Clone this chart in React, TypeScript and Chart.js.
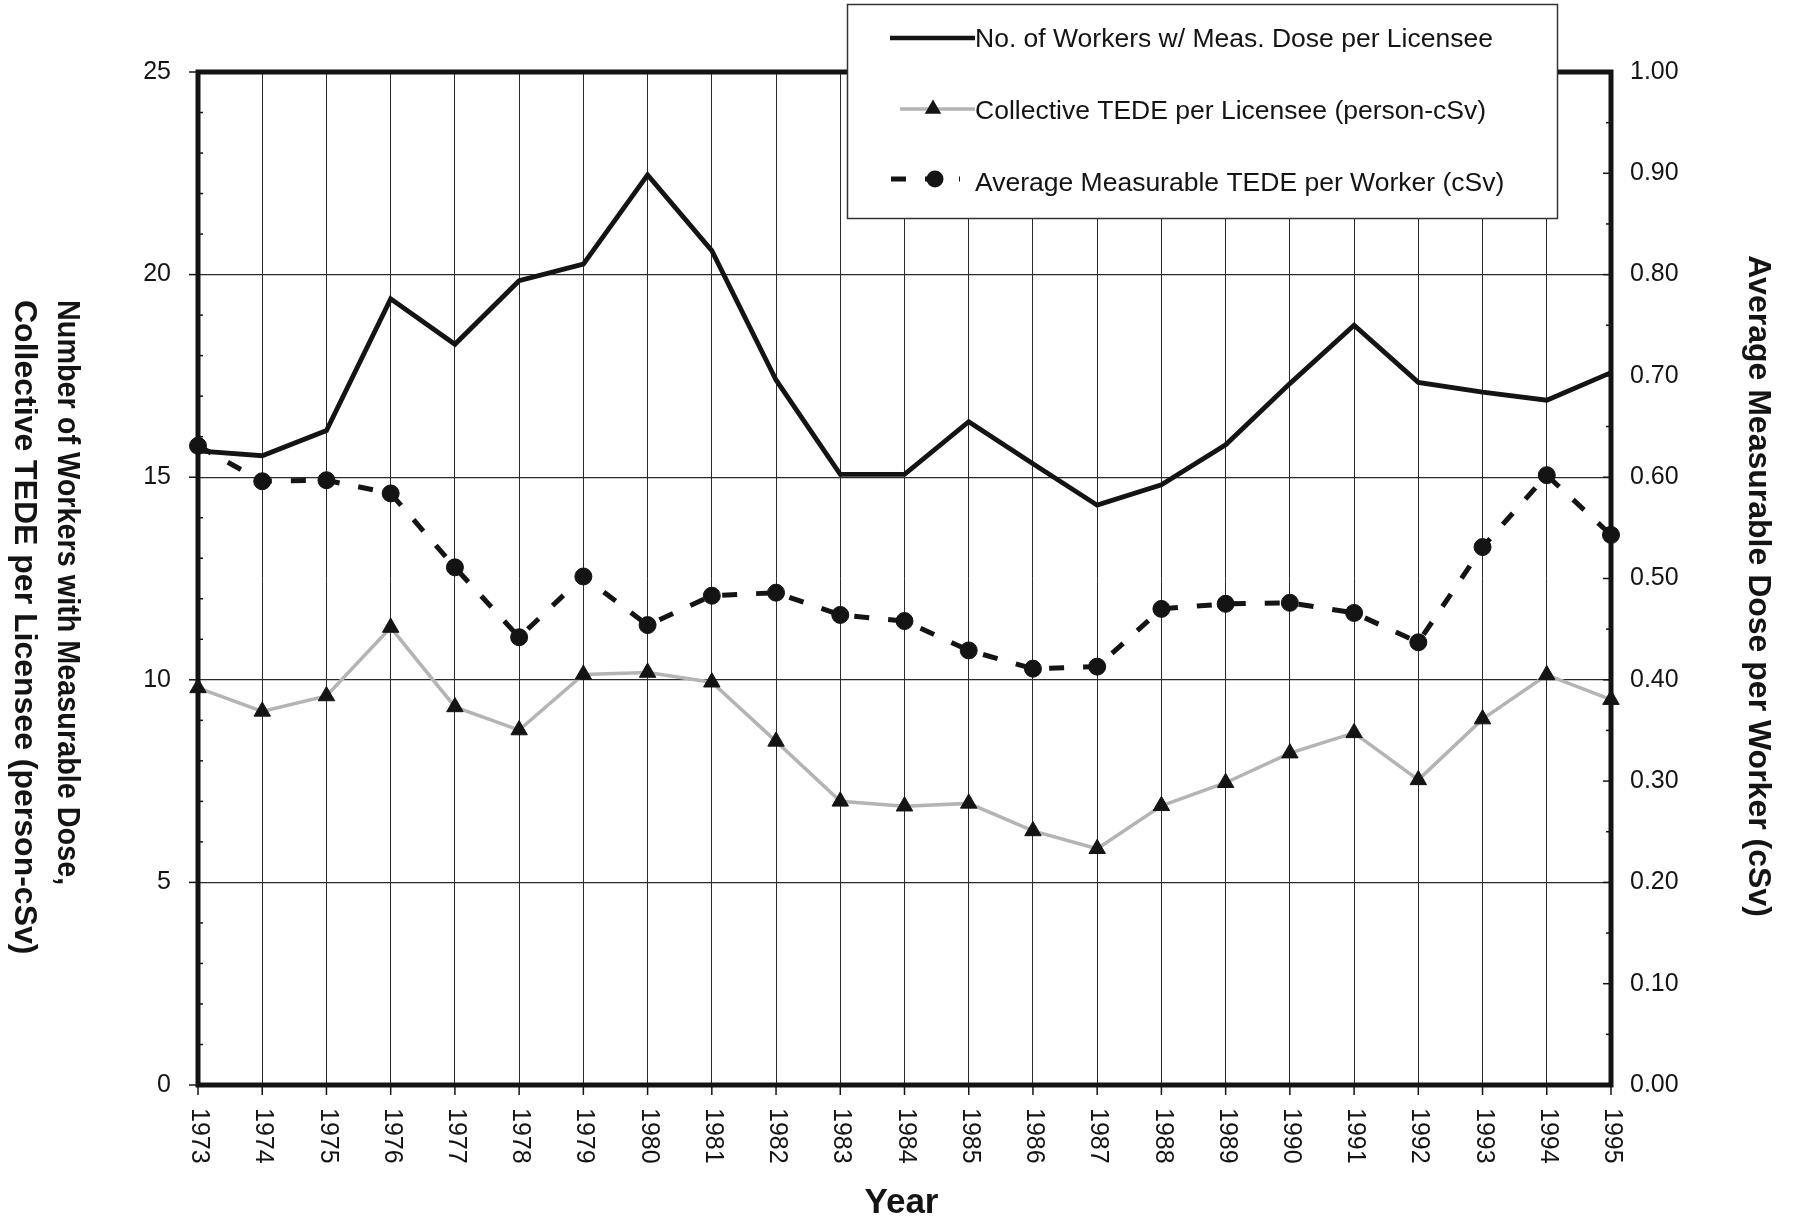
import React, { useEffect, useRef } from 'react';
import { Chart, registerables } from 'chart.js';

Chart.register(...registerables);

const years = ['1973', '1974', '1975', '1976', '1977', '1978', '1979', '1980', '1981', '1982', '1983', '1984', '1985', '1986', '1987', '1988', '1989', '1990', '1991', '1992', '1993', '1994', '1995'];

const workersPerLicensee = [15.65, 15.53, 16.15, 19.4, 18.28, 19.85, 20.26, 22.46, 20.59, 17.4, 15.07, 15.07, 16.37, 15.33, 14.31, 14.81, 15.8, 17.31, 18.75, 17.34, 17.1, 16.9, 17.58];

const collectiveTede = [9.8, 9.22, 9.6, 11.29, 9.33, 8.76, 10.13, 10.18, 9.94, 8.48, 7.0, 6.88, 6.95, 6.27, 5.83, 6.89, 7.46, 8.19, 8.69, 7.53, 9.03, 10.12, 9.51];

const avgTedePerWorker = [0.631, 0.596, 0.597, 0.584, 0.511, 0.442, 0.502, 0.454, 0.483, 0.486, 0.464, 0.458, 0.429, 0.411, 0.413, 0.47, 0.475, 0.476, 0.466, 0.437, 0.531, 0.602, 0.543];

const seriesNames = [
  'No. of Workers w/ Meas. Dose per Licensee',
  'Collective TEDE per Licensee (person-cSv)',
  'Average Measurable TEDE per Worker (cSv)',
];

const leftTitleLines = ['Number of Workers with Measurable Dose,', 'Collective TEDE per Licensee (person-cSv)'];
const rightTitle = 'Average Measurable Dose per Worker (cSv)';
const xTitle = 'Year';

const FONT = '"Liberation Sans", Arial, Helvetica, sans-serif';
const INK = '#141414';
const GRAY = '#b4b4b4';
const DASH = [15, 19];

function drawTriangle(ctx: CanvasRenderingContext2D, x: number, y: number, r: number) {
  ctx.beginPath();
  for (let k = 0; k < 3; k++) {
    const a = (k * 2 * Math.PI) / 3;
    const px = x + Math.sin(a) * r;
    const py = y - Math.cos(a) * r;
    if (k === 0) ctx.moveTo(px, py);
    else ctx.lineTo(px, py);
  }
  ctx.closePath();
  ctx.fill();
}

const decorPlugin = {
  id: 'decor',
  beforeDatasetsDraw(chart: any) {
    const { ctx, chartArea: a, scales } = chart;
    ctx.save();
    ctx.strokeStyle = INK;
    ctx.lineWidth = 1.5;
    const y = scales.y;
    for (let v = 0; v <= 25; v++) {
      const py = y.getPixelForValue(v);
      ctx.beginPath();
      if (v % 5 === 0) {
        ctx.moveTo(a.left - 9, py);
        ctx.lineTo(a.left, py);
      } else {
        ctx.moveTo(a.left, py);
        ctx.lineTo(a.left + 5, py);
      }
      ctx.stroke();
    }
    const y1 = scales.y1;
    for (let i = 0; i <= 20; i++) {
      const py = y1.getPixelForValue(i * 0.05);
      const len = i % 2 === 0 ? 8 : 5;
      ctx.beginPath();
      ctx.moveTo(a.right - len, py);
      ctx.lineTo(a.right, py);
      ctx.stroke();
    }
    const x = scales.x;
    for (let i = 0; i < years.length; i++) {
      const px = x.getPixelForTick(i);
      ctx.beginPath();
      ctx.moveTo(px, a.bottom);
      ctx.lineTo(px, a.bottom + 10);
      ctx.stroke();
    }
    ctx.lineWidth = 5;
    ctx.strokeRect(a.left, a.top, a.right - a.left, a.bottom - a.top);
    ctx.restore();
  },
  afterDraw(chart: any) {
    const { ctx, chartArea: a, scales } = chart;
    const x = scales.x;
    ctx.save();
    ctx.fillStyle = INK;
    // year labels, reading top to bottom
    ctx.font = `25px ${FONT}`;
    ctx.textAlign = 'left';
    ctx.textBaseline = 'middle';
    for (let i = 0; i < years.length; i++) {
      const px = x.getPixelForTick(i);
      ctx.save();
      ctx.translate(px + 1, a.bottom + 23);
      ctx.rotate(Math.PI / 2);
      ctx.fillText(years[i], 0, 0);
      ctx.restore();
    }
    // axis titles
    ctx.font = `bold 35px ${FONT}`;
    ctx.textAlign = 'center';
    ctx.textBaseline = 'alphabetic';
    ctx.fillText(xTitle, (a.left + a.right) / 2 - 3, 1213);

    ctx.font = `bold 32px ${FONT}`;
    ctx.textAlign = 'left';
    const leftBase = [58, 15];
    const leftSquash = [0.9, 1];
    leftTitleLines.forEach((t, i) => {
      ctx.save();
      ctx.translate(leftBase[i], 300);
      ctx.rotate(Math.PI / 2);
      ctx.scale(leftSquash[i], 1);
      ctx.fillText(t, 0, 0);
      ctx.restore();
    });
    ctx.save();
    ctx.translate(1749, 586);
    ctx.rotate(Math.PI / 2);
    ctx.textAlign = 'center';
    ctx.fillText(rightTitle, 0, 0);
    ctx.restore();

    // legend box
    const bx = 847, by = 4, bw = 710, bh = 214;
    ctx.fillStyle = '#ffffff';
    ctx.fillRect(bx, by, bw, bh);
    ctx.strokeStyle = '#333';
    ctx.lineWidth = 1.5;
    ctx.strokeRect(bx + 0.5, by + 0.5, bw, bh);

    const rowY = [40, 112, 184];
    // sample 1: solid line
    ctx.strokeStyle = INK;
    ctx.lineWidth = 4.5;
    ctx.beginPath();
    ctx.moveTo(890, rowY[0] - 2);
    ctx.lineTo(975, rowY[0] - 2);
    ctx.stroke();
    // sample 2: gray line + triangle
    ctx.strokeStyle = GRAY;
    ctx.lineWidth = 3.5;
    ctx.beginPath();
    ctx.moveTo(900, rowY[1] - 3);
    ctx.lineTo(975, rowY[1] - 3);
    ctx.stroke();
    ctx.fillStyle = INK;
    drawTriangle(ctx, 933, rowY[1] - 3, 9.5);
    // sample 3: dashed line + circle
    ctx.strokeStyle = INK;
    ctx.lineWidth = 5;
    ctx.setLineDash(DASH);
    ctx.beginPath();
    ctx.moveTo(891, rowY[2] - 5);
    ctx.lineTo(960, rowY[2] - 5);
    ctx.stroke();
    ctx.setLineDash([]);
    ctx.beginPath();
    ctx.arc(935, rowY[2] - 5, 8.5, 0, Math.PI * 2);
    ctx.fill();

    ctx.font = `26.5px ${FONT}`;
    ctx.textAlign = 'left';
    ctx.textBaseline = 'middle';
    seriesNames.forEach((n, i) => ctx.fillText(n, 975, rowY[i]));
    ctx.restore();
  },
};

export default function App() {
  const canvasRef = useRef<HTMLCanvasElement | null>(null);

  useEffect(() => {
    const canvas = canvasRef.current;
    if (!canvas) return;
    const chart = new Chart(canvas, {
      type: 'line',
      data: {
        labels: years,
        datasets: [
          {
            label: seriesNames[0],
            data: workersPerLicensee,
            yAxisID: 'y',
            borderColor: INK,
            borderWidth: 4.8,
            pointRadius: 0,
            fill: false,
            tension: 0,
          },
          {
            label: seriesNames[1],
            data: collectiveTede,
            yAxisID: 'y',
            borderColor: GRAY,
            borderWidth: 3.5,
            pointStyle: 'triangle',
            pointRadius: 9.5,
            pointBackgroundColor: INK,
            pointBorderColor: INK,
            pointBorderWidth: 1,
            fill: false,
            tension: 0,
          },
          {
            label: seriesNames[2],
            data: avgTedePerWorker,
            yAxisID: 'y1',
            borderColor: INK,
            borderWidth: 5,
            borderDash: DASH,
            pointStyle: 'circle',
            pointRadius: 8.5,
            pointBackgroundColor: INK,
            pointBorderColor: INK,
            pointBorderWidth: 1,
            fill: false,
            tension: 0,
          },
        ],
      },
      options: {
        responsive: false,
        animation: false,
        devicePixelRatio: 1,
        layout: { padding: { top: 72, left: 0, right: 0, bottom: 0 } },
        plugins: {
          legend: { display: false },
          tooltip: { enabled: false },
        },
        scales: {
          x: {
            type: 'category',
            offset: false,
            grid: { color: '#2a2a2a', lineWidth: 1, drawTicks: false },
            border: { display: false },
            ticks: { display: false },
            afterFit: (s: any) => { s.height = 140; },
          },
          y: {
            position: 'left',
            min: 0,
            max: 25,
            ticks: {
              stepSize: 5,
              padding: 27,
              color: INK,
              font: { family: FONT, size: 25 },
            },
            grid: { color: '#2a2a2a', lineWidth: 1.2, drawTicks: false },
            border: { display: false },
            afterFit: (s: any) => { s.width = 198; },
          },
          y1: {
            position: 'right',
            min: 0,
            max: 1,
            ticks: {
              stepSize: 0.1,
              padding: 19,
              color: INK,
              font: { family: FONT, size: 25 },
              callback: (v: any) => Number(v).toFixed(2),
            },
            grid: { drawOnChartArea: false, drawTicks: false },
            border: { display: false },
            afterFit: (s: any) => { s.width = 187; },
          },
        },
      },
      plugins: [decorPlugin],
    } as any);
    return () => chart.destroy();
  }, []);

  return (
    <div style={{ position: 'absolute', left: 0, top: 0, width: 1798, height: 1225, background: '#fff' }}>
      <canvas ref={canvasRef} width={1798} height={1225} style={{ display: 'block' }} />
    </div>
  );
}
